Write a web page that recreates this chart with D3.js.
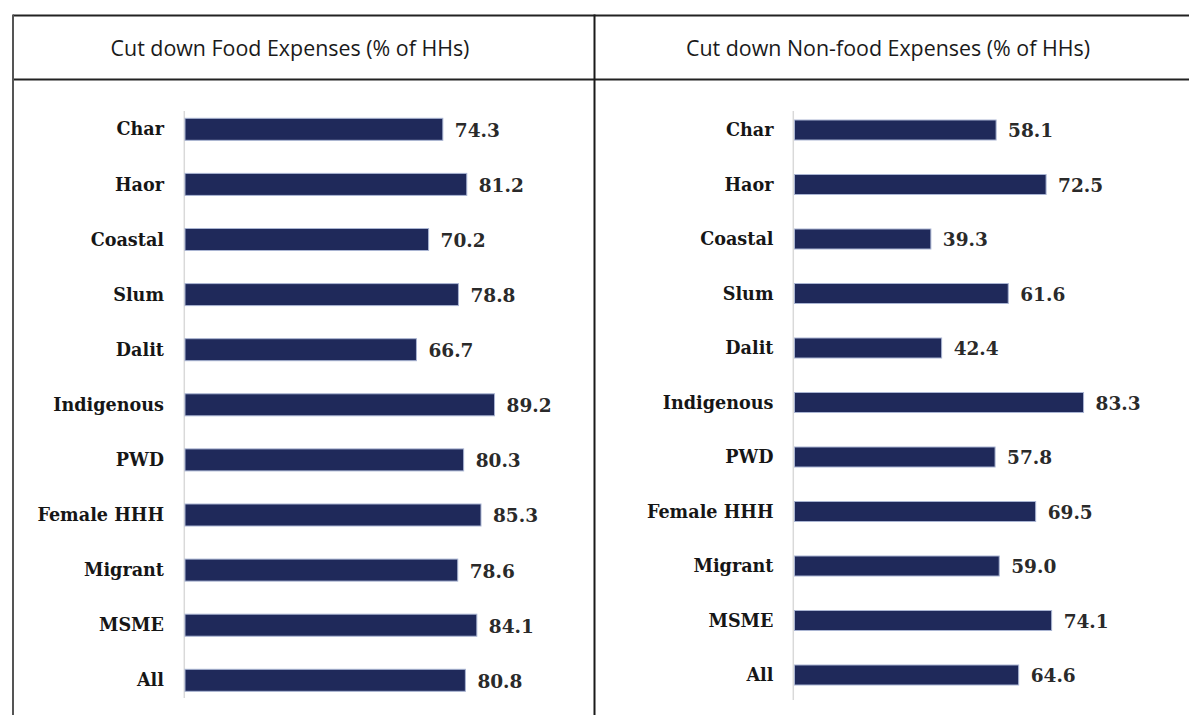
<!DOCTYPE html>
<html>
<head>
<meta charset="utf-8">
<script src="https://cdn.jsdelivr.net/npm/d3@7"></script>
<style>
  html, body { margin: 0; padding: 0; background: #fff; }
  svg { display: block; }
</style>
</head>
<body>
<svg id="chart" width="1189" height="715"></svg>
<script>
// Household groups, top to bottom
const categories = ["Char", "Haor", "Coastal", "Slum", "Dalit", "Indigenous", "PWD", "Female HHH", "Migrant", "MSME", "All"];
// Share of households (%) that cut down food expenses
const foodValues = [74.3, 81.2, 70.2, 78.8, 66.7, 89.2, 80.3, 85.3, 78.6, 84.1, 80.8];
// Share of households (%) that cut down non-food expenses
const nonFoodValues = [58.1, 72.5, 39.3, 61.6, 42.4, 83.3, 57.8, 69.5, 59.0, 74.1, 64.6];
const panelTitles = ["Cut down Food Expenses (% of HHs)", "Cut down Non-food Expenses (% of HHs)"];

const svg = d3.select("#chart");
const W = 1189, H = 715;

// Table frame: top rule, header rule, outer left border and centre divider
const frame = svg.append("g");
frame.append("line").attr("x1", 13).attr("x2", W).attr("y1", 15.5).attr("y2", 15.5)
  .attr("stroke", "#222").attr("stroke-width", 2);
frame.append("line").attr("x1", 13).attr("x2", W).attr("y1", 79.5).attr("y2", 79.5)
  .attr("stroke", "#222").attr("stroke-width", 2);
frame.append("line").attr("x1", 13).attr("x2", 13).attr("y1", 14.5).attr("y2", H)
  .attr("stroke", "#555").attr("stroke-width", 2);
frame.append("line").attr("x1", 594.5).attr("x2", 594.5).attr("y1", 14.5).attr("y2", H)
  .attr("stroke", "#1a1a1a").attr("stroke-width", 2);

const panels = [
  { title: panelTitles[0], values: foodValues, titleX: 290, x0: 185, axisX: 184.3,
    yTop: 118.3, barH: 22, step: 55.1, axisTop: 111, axisBottom: 698 },
  { title: panelTitles[1], values: nonFoodValues, titleX: 888, x0: 794.5, axisX: 793.3,
    yTop: 120, barH: 20, step: 54.5, axisTop: 111, axisBottom: 700 }
];

panels.forEach(p => {
  const g = svg.append("g");

  g.append("text")
    .attr("x", p.titleX).attr("y", 55.5)
    .attr("text-anchor", "middle")
    .attr("font-family", "'Open Sans', 'Noto Sans', sans-serif")
    .attr("font-size", 21.4)
    .attr("fill", "#1a1a1a")
    .text(p.title);

  const x = d3.scaleLinear().domain([0, 100]).range([p.x0, p.x0 + 347]);
  const pad = 1 - p.barH / p.step;
  const y = d3.scaleBand()
    .domain(categories)
    .range([p.yTop, p.yTop + (categories.length - 1) * p.step + p.barH])
    .paddingInner(pad)
    .paddingOuter(0);

  // vertical category axis line
  g.append("line")
    .attr("x1", p.axisX).attr("x2", p.axisX)
    .attr("y1", p.axisTop).attr("y2", p.axisBottom)
    .attr("stroke", "#d9d9d9").attr("stroke-width", 1.5);

  const data = categories.map((c, i) => ({ cat: c, v: p.values[i] }));

  g.selectAll("rect.bar").data(data).join("rect")
    .attr("class", "bar")
    .attr("x", x(0))
    .attr("y", d => y(d.cat))
    .attr("width", d => x(d.v) - x(0))
    .attr("height", y.bandwidth())
    .attr("fill", "#1f295a")
    .attr("stroke", "#a9b4d2")
    .attr("stroke-width", 1);

  // category labels
  g.selectAll("text.cat").data(data).join("text")
    .attr("class", "cat")
    .attr("x", x(0) - 21)
    .attr("y", d => y(d.cat) + y.bandwidth() / 2)
    .attr("dy", "0.35em")
    .attr("text-anchor", "end")
    .attr("font-family", "'DejaVu Serif', serif")
    .attr("font-weight", "bold")
    .attr("font-size", 17.6)
    .attr("fill", "#161616")
    .text(d => d.cat);

  // value labels
  g.selectAll("text.val").data(data).join("text")
    .attr("class", "val")
    .attr("x", d => x(d.v) + 12)
    .attr("y", d => y(d.cat) + y.bandwidth() / 2)
    .attr("dy", "0.4em")
    .attr("text-anchor", "start")
    .attr("font-family", "'DejaVu Serif', serif")
    .attr("font-weight", "bold")
    .attr("font-size", 18.5)
    .attr("fill", "#2a2a2a")
    .text(d => d.v.toFixed(1));
});
</script>
</body>
</html>
